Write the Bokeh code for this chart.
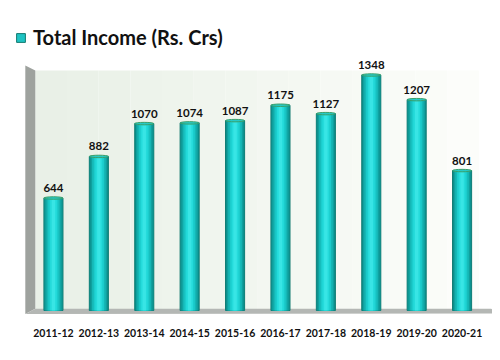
from bokeh.plotting import figure
from bokeh.models import ColumnDataSource, FixedTicker, Legend, LegendItem, Range1d
from bokeh.core.properties import value
from bokeh.embed import file_html
from bokeh.resources import INLINE

years = ["2011-12", "2012-13", "2013-14", "2014-15", "2015-16",
         "2016-17", "2017-18", "2018-19", "2019-20", "2020-21"]
income = [644, 882, 1070, 1074, 1087, 1175, 1127, 1348, 1207, 801]
series_name = "Total Income (Rs. Crs)"

xs = list(range(len(years)))
src = ColumnDataSource(dict(x=xs, top=income, label=[str(v) for v in income]))

FONT = "Lato"
p = figure(width=492, height=352, output_backend="svg", toolbar_location=None,
           x_range=Range1d(-0.99, 9.67), y_range=Range1d(-34.3, 1728.7),
           min_border_left=8, min_border_right=0, min_border_top=8, min_border_bottom=36)
p.outline_line_color = None
p.grid.visible = False
p.yaxis.visible = False
p.background_fill_color = "white"
p.border_fill_color = "white"

# ---- 3D-style walls (decoration) ----
n = len(years)
wl, wr = -0.40, n - 1 + 0.37
wall_top = 1374
steps = 14
for i in range(steps):
    t = i / (steps - 1)
    r = int(233 + (252 - 233) * t)
    g = int(240 + (253 - 240) * t)
    b = int(231 + (250 - 231) * t)
    x0 = wl + (wr - wl) * i / steps
    x1 = wl + (wr - wl) * (i + 1) / steps
    p.quad(left=x0, right=x1, bottom=0, top=wall_top,
           fill_color=(r, g, b), line_color=None)
p.patch(x=[-0.62, wl, wl, -0.62], y=[1402, wall_top, 10, -20],
        fill_color="#9ea29e", line_color=None)
p.patch(x=[-0.62, wl, 9.64, 9.84], y=[-20, 10, 10, -17],
        fill_color="#b4b7b4", line_color=None)

# ---- cylinder-like bars ----
bw = 0.42
# base bar (also used as the legend swatch): thin dark outline
base = p.vbar(x="x", top="top", bottom=0, width=bw, source=src,
              fill_color="#1fc3c3", line_color="#127a70", line_width=1)
layers = [(0.97, "#0c8784"), (0.88, "#10a09e"), (0.72, "#15b7b6"),
          (0.54, "#1bcccc"), (0.36, "#25dbdb"), (0.18, "#38e5e5")]
for f, col in layers:
    p.vbar(x="x", top="top", bottom=0, width=bw * f, source=src,
           fill_color=col, line_color=None)
p.ellipse(x="x", y="top", width=bw, height=14, source=src,
          fill_color="#27c9c6", line_color="#3a9f6a", line_width=1)

p.text(x="x", y="top", text="label", source=src, y_offset=-6,
       text_align="center", text_baseline="bottom",
       text_font=value(FONT), text_font_style="bold", text_font_size="11.5px",
       text_color="#111111")

p.xaxis.ticker = FixedTicker(ticks=xs)
p.xaxis.major_label_overrides = {i: y for i, y in enumerate(years)}
p.xaxis.axis_line_color = None
p.xaxis.major_tick_line_color = None
p.xaxis.minor_tick_line_color = None
p.xaxis.major_label_standoff = 6
p.xaxis.major_label_text_font = FONT
p.xaxis.major_label_text_font_style = "bold"
p.xaxis.major_label_text_font_size = "10.5px"
p.xaxis.major_label_text_color = "#111111"

legend = Legend(items=[LegendItem(label=series_name, renderers=[base])],
                location=(7, 267), orientation="horizontal",
                glyph_width=11, glyph_height=11, label_standoff=7,
                label_text_font=FONT, label_text_font_style="bold",
                label_text_font_size="20px", label_text_color="#111111",
                background_fill_alpha=0, border_line_color=None,
                padding=0, margin=0, spacing=0)
p.add_layout(legend)

open("out.html", "w").write(file_html(p, INLINE))
